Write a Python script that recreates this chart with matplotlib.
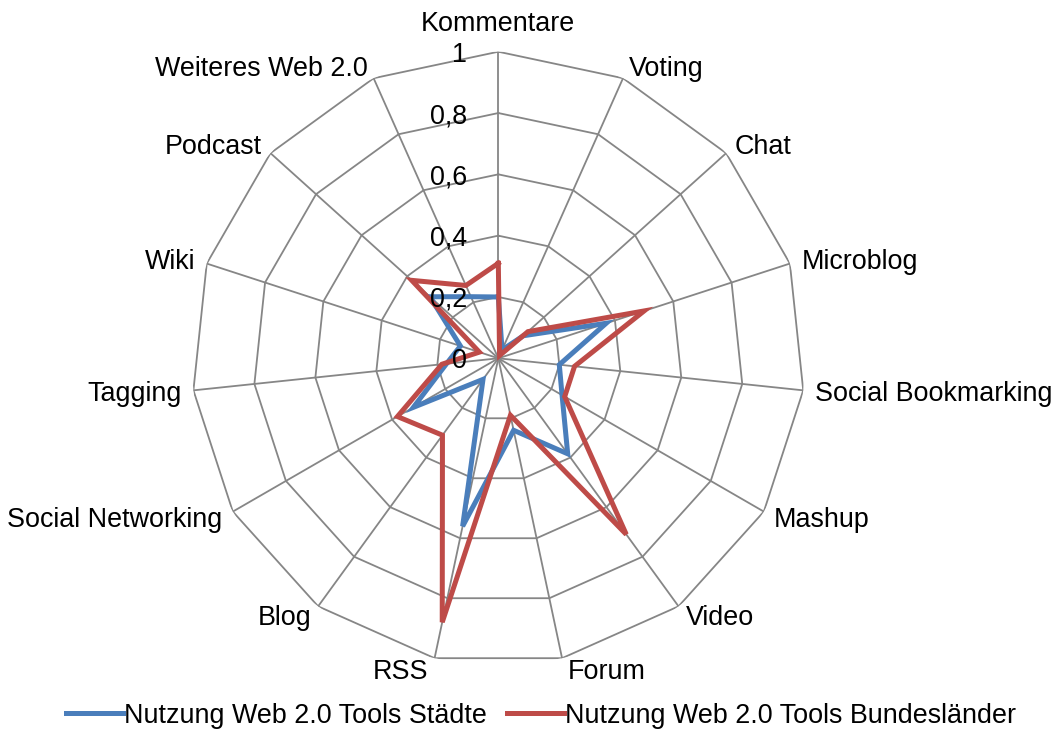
import numpy as np
import matplotlib
matplotlib.use("Agg")
import matplotlib.pyplot as plt
from matplotlib.transforms import offset_copy

plt.rcParams['font.family'] = ['Liberation Sans', 'DejaVu Sans']

# Data (clockwise from top)
categories = ["Kommentare", "Voting", "Chat", "Microblog", "Social Bookmarking",
              "Mashup", "Video", "Forum", "RSS", "Blog", "Social Networking",
              "Tagging", "Wiki", "Podcast", "Weiteres Web 2.0"]
staedte = [0.20, 0.03, 0.11, 0.37, 0.20, 0.24, 0.385, 0.24, 0.56, 0.085,
           0.32, 0.17, 0.13, 0.30, 0.22]
laender = [0.31, 0.01, 0.13, 0.50, 0.25, 0.25, 0.71, 0.19, 0.88, 0.31,
           0.38, 0.185, 0.065, 0.38, 0.26]
ring_values = [0.2, 0.4, 0.6, 0.8, 1.0]
tick_labels = ["0", "0,2", "0,4", "0,6", "0,8", "1"]
series_names = ["Nutzung Web 2.0 Tools Städte", "Nutzung Web 2.0 Tools Bundesländer"]

BLUE = "#4a7ebb"
RED = "#be4b48"
GRID = "#868686"
FS = 19.4

fig = plt.figure(figsize=(10.57, 7.29), dpi=100)
ax = fig.add_axes([0.1814, 0.0879, 0.5801, 0.8412], projection="polar")
ax.set_theta_zero_location("N")
ax.set_theta_direction(-1)
ax.set_ylim(0, 1)
ax.grid(False)
ax.set_xticks([])
ax.set_yticks([])
ax.spines["polar"].set_visible(False)
ax.patch.set_visible(False)

n = len(categories)
angles = np.arange(n) * 2 * np.pi / n
closed = np.append(angles, angles[0])

# polygon grid
for r in ring_values:
    ax.plot(closed, [r] * (n + 1), color=GRID, lw=1.3, zorder=1)
for a in angles:
    ax.plot([a, a], [0, 1], color=GRID, lw=1.3, zorder=1)

# data series
ax.plot(closed, staedte + staedte[:1], color=BLUE, lw=3.6, zorder=3,
        label=series_names[0], solid_joinstyle="miter")
ax.plot(closed, laender + laender[:1], color=RED, lw=3.6, zorder=4,
        label=series_names[1], solid_joinstyle="miter")

# radial tick labels left of the top spoke
for val, lab in zip([0] + ring_values, tick_labels):
    tr = offset_copy(ax.transData, fig=fig, x=-31, y=-3, units="dots")
    ax.text(0, val, lab, transform=tr, ha="right", va="center", fontsize=FS, zorder=5)

# category labels
for a, lab in zip(angles, categories):
    s, c = np.sin(a), np.cos(a)
    if abs(s) < 0.05:
        ha, dx, dy = "center", 0, 28
    else:
        ha = "left" if s > 0 else "right"
        dx = np.sign(s) * max(6, 12 * abs(s))
        dy = 12 * c - 2
    tr = offset_copy(ax.transData, fig=fig, x=dx, y=dy, units="dots")
    ax.text(a, 1, lab, transform=tr, ha=ha, va="center", fontsize=FS)

fig.legend(loc="center", bbox_to_anchor=(0.512, 0.018), ncol=2, frameon=False,
           fontsize=FS, handlelength=2.1, handletextpad=0.05, columnspacing=0.75,
           borderaxespad=0)

fig.savefig("out.png", dpi=100)
